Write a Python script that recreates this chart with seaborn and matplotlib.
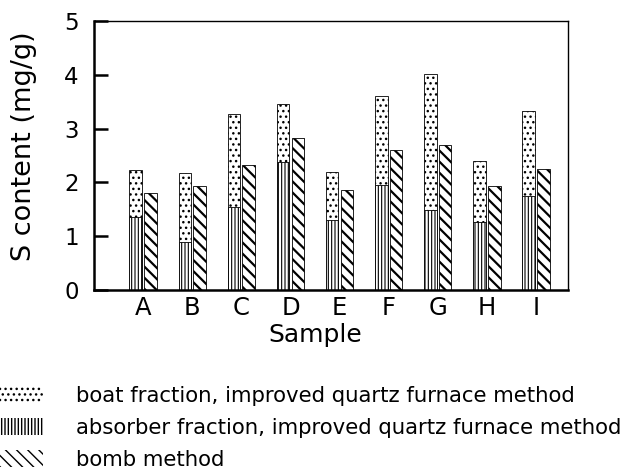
import numpy as np
import pandas as pd
import matplotlib
matplotlib.use("Agg")
import matplotlib.pyplot as plt
import seaborn as sns
from matplotlib.patches import Patch

# ---- data ----
samples = ["A", "B", "C", "D", "E", "F", "G", "H", "I"]
absorber = [1.36, 0.89, 1.54, 2.38, 1.30, 1.95, 1.48, 1.27, 1.74]
boat = [0.87, 1.28, 1.73, 1.07, 0.90, 1.66, 2.53, 1.12, 1.58]
bomb = [1.80, 1.93, 2.32, 2.83, 1.85, 2.61, 2.69, 1.94, 2.25]
yticks = [0, 1, 2, 3, 4, 5]
legend_labels = [
    "boat fraction, improved quartz furnace method",
    "absorber fraction, improved quartz furnace method",
    "bomb method",
]

sns.set_theme(style="white")
plt.rcParams["font.family"] = ["DejaVu Sans"]
plt.rcParams["text.color"] = "black"
plt.rcParams["axes.labelcolor"] = "black"
plt.rcParams["xtick.color"] = "black"
plt.rcParams["ytick.color"] = "black"
plt.rcParams["hatch.linewidth"] = 1.0

total = [a + b for a, b in zip(absorber, boat)]
df_top = pd.DataFrame({
    "Sample": samples * 2,
    "value": total + bomb,
    "series": ["quartz"] * len(samples) + ["bomb"] * len(samples),
})
df_bot = pd.DataFrame({
    "Sample": samples * 2,
    "value": absorber + [np.nan] * len(samples),
    "series": ["quartz"] * len(samples) + ["bomb"] * len(samples),
})

H_BOAT = "..."
H_ABS = "|||||"
H_BOMB = "\\\\\\"
HLW = {H_BOAT: 1.0, H_ABS: 0.8, H_BOMB: 1.6}


def set_hatch(p, h):
    p.set_hatch(h)
    if hasattr(p, "set_hatch_linewidth"):
        p.set_hatch_linewidth(HLW[h])


fig = plt.figure(figsize=(6.29, 4.72), dpi=100)
ax = fig.add_axes([94 / 629, 1 - 290 / 472, 474 / 629, 269 / 472])

kw = dict(x="Sample", y="value", hue="series", hue_order=["quartz", "bomb"],
          order=samples, width=0.6, gap=0.15, palette=["white", "white"],
          edgecolor="black", linewidth=0.6, legend=False, ax=ax, errorbar=None)
sns.barplot(data=df_top, **kw)
n = len(samples)
patches = list(ax.patches)
for i, p in enumerate(patches):
    set_hatch(p, H_BOAT if i < n else H_BOMB)
sns.barplot(data=df_bot, **kw)
for p in ax.patches[len(patches):]:
    set_hatch(p, H_ABS)

ax.set_ylim(0, 5)
ax.set_xlim(-1.0, 8.65)
ax.set_yticks(yticks)
ax.set_yticklabels([str(t) for t in yticks], fontsize=16.5)
ax.tick_params(axis="y", direction="in", length=10, width=1.8, pad=11, left=True)
ax.tick_params(axis="x", length=0, labelsize=17.5, pad=4)
for s in ["left", "bottom"]:
    ax.spines[s].set_linewidth(1.8)
for s in ["top", "right"]:
    ax.spines[s].set_linewidth(1.0)
for s in ax.spines.values():
    s.set_color("black")

ax.set_xlabel("Sample", fontsize=18)
ax.set_ylabel("S content (mg/g)", fontsize=19.5)
ax.xaxis.set_label_coords((315 - 94) / 474, -0.124)
ax.yaxis.set_label_coords(-0.12, 0.535)

handles = []
for h in [H_BOAT, H_ABS, H_BOMB]:
    hp = Patch(facecolor="white", edgecolor="black", linewidth=0)
    set_hatch(hp, h)
    handles.append(hp)
fig.legend(handles, legend_labels, loc="upper left",
           bbox_to_anchor=(0.0, 1 - 386 / 472), frameon=False, fontsize=15.3,
           handlelength=2.02, handleheight=0.85, handletextpad=1.55,
           labelspacing=0.56, borderpad=0, borderaxespad=0)

fig.savefig("out.png", dpi=100)
